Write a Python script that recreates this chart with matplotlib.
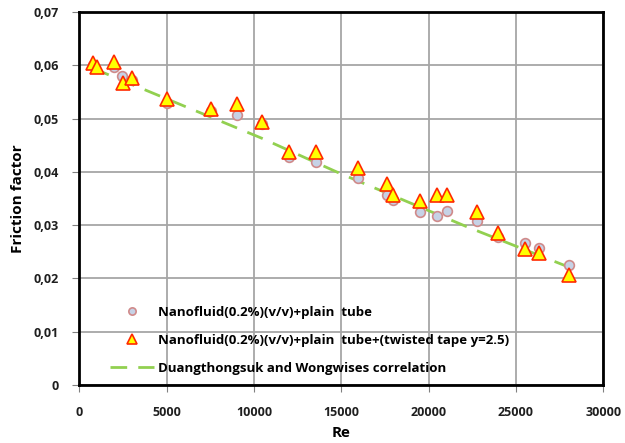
import matplotlib.pyplot as plt

# plain tube (circles)
re_plain = [800, 2000, 2430, 3000, 5000, 7530, 9020, 10460, 12010, 13540, 15980,
            17610, 17990, 19510, 20500, 21040, 22800, 24000, 25530, 26330, 28050]
f_plain = [0.0600, 0.0597, 0.0579, 0.0573, 0.0529, 0.0515, 0.0507, 0.0490, 0.0428, 0.0419, 0.0388,
           0.0357, 0.0348, 0.0325, 0.0317, 0.0327, 0.0308, 0.0277, 0.0267, 0.0257, 0.0226]

# twisted tape (triangles)
re_tape = [785, 1000, 2000, 2520, 3000, 5000, 7530, 9020, 10460, 12010, 13540, 15980,
           17610, 17990, 19510, 20500, 21040, 22800, 24000, 25530, 26330, 28050]
f_tape = [0.0604, 0.0597, 0.0607, 0.0566, 0.0577, 0.0537, 0.0517, 0.0527, 0.0493, 0.0437, 0.0438, 0.0407,
          0.0377, 0.0357, 0.0346, 0.0357, 0.0357, 0.0325, 0.0286, 0.0255, 0.0247, 0.0206]

# correlation
re_corr = [800, 10450, 14930, 22190, 28050]
f_corr = [0.0594, 0.0463, 0.0397, 0.0297, 0.0221]

yticks = [0, 0.01, 0.02, 0.03, 0.04, 0.05, 0.06, 0.07]
ylabels = ['0', '0,01', '0,02', '0,03', '0,04', '0,05', '0,06', '0,07']
xticks = [0, 5000, 10000, 15000, 20000, 25000, 30000]

plt.rcParams['font.family'] = ['Open Sans', 'DejaVu Sans']

fig = plt.figure(figsize=(6.25, 4.43), dpi=100)
ax = fig.add_axes([0.127, 0.131, 0.838, 0.842])

ax.plot(re_corr, f_corr, linestyle=(0, (6, 4)), color='#92D050', linewidth=2,
        label='Duangthongsuk and Wongwises correlation', zorder=2)
ax.plot(re_plain, f_plain, 'o', markersize=7, markerfacecolor='#C6D2E6',
        markeredgecolor='#D08A8A', markeredgewidth=1.2, linestyle='none',
        label='Nanofluid(0.2%)(v/v)+plain  tube', zorder=3)
ax.plot(re_tape, f_tape, '^', markersize=10, markerfacecolor='#FFFF00',
        markeredgecolor='#FF2A00', markeredgewidth=1.2, linestyle='none',
        label='Nanofluid(0.2%)(v/v)+plain  tube+(twisted tape y=2.5)', zorder=4)

ax.set_xlim(0, 30000)
ax.set_ylim(0, 0.07)
ax.set_xticks(xticks)
ax.set_xticklabels([str(x) for x in xticks])
ax.set_yticks(yticks)
ax.set_yticklabels(ylabels)
ax.grid(True, color='#A6A6A6', linewidth=1.3)
ax.set_axisbelow(True)
for s in ax.spines.values():
    s.set_linewidth(2)
    s.set_color('black')
ax.tick_params(direction='out', length=5, color='#808080', labelsize=9, pad=10)
for lab in ax.get_xticklabels() + ax.get_yticklabels():
    lab.set_fontweight('bold')
    lab.set_color('#1F1F1F')

ax.set_xlabel('Re', fontsize=11, fontweight='bold', labelpad=5)
ax.set_ylabel('Friction factor', fontsize=11, fontweight='bold', labelpad=6)

h, l = ax.get_legend_handles_labels()
ax.legend([h[1], h[2], h[0]], [l[1], l[2], l[0]], loc='lower left',
          bbox_to_anchor=(0.035, -0.005), frameon=False, markerscale=0.75,
          prop={'weight': 'bold', 'size': 9.5}, handlelength=3.4,
          handletextpad=0.3, labelspacing=1.15)

plt.savefig('out.png', dpi=100)
